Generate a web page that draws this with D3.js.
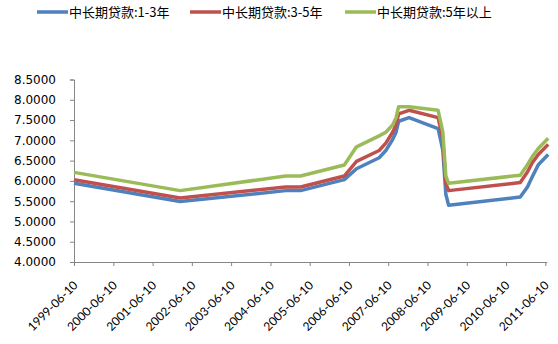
<!DOCTYPE html>
<html>
<head>
<meta charset="utf-8">
<script src="https://cdn.jsdelivr.net/npm/d3@7"></script>
<style>
  html, body { margin: 0; padding: 0; background: #fff; }
  svg { display: block; }
</style>
</head>
<body>
<svg id="chart" width="558" height="344"></svg>
<script>
// Benchmark medium/long-term loan rates (%) at each adjustment date
const dates = [
  "1999-06-10", "2002-02-21", "2004-10-29", "2005-03-17", "2006-04-28",
  "2006-08-19", "2007-03-18", "2007-05-19", "2007-07-21", "2007-08-22",
  "2007-09-15", "2007-12-21", "2008-09-16", "2008-10-09", "2008-10-30",
  "2008-11-27", "2008-12-23", "2010-10-20", "2010-12-26", "2011-02-09",
  "2011-04-06", "2011-07-07"
];
const rate1to3 = [5.94, 5.49, 5.76, 5.76, 6.03, 6.30, 6.57, 6.75, 7.02, 7.20, 7.47, 7.56,
                  7.29, 7.02, 6.75, 5.67, 5.40, 5.60, 5.85, 6.10, 6.40, 6.65];
const rate3to5 = [6.03, 5.58, 5.85, 5.85, 6.12, 6.48, 6.75, 6.93, 7.20, 7.38, 7.65, 7.74,
                  7.56, 7.29, 7.02, 5.94, 5.76, 5.96, 6.22, 6.45, 6.65, 6.90];
const rate5plus = [6.21, 5.76, 6.12, 6.12, 6.39, 6.84, 7.11, 7.20, 7.38, 7.56, 7.83, 7.83,
                   7.74, 7.47, 7.20, 6.12, 5.94, 6.14, 6.40, 6.60, 6.80, 7.05];

const seriesNames = ["中长期贷款:1-3年", "中长期贷款:3-5年", "中长期贷款:5年以上"];
const seriesColors = ["#4f81bd", "#c0504d", "#9bbb59"];
const yTicks = [4.0, 4.5, 5.0, 5.5, 6.0, 6.5, 7.0, 7.5, 8.0, 8.5];
const xTickYears = d3.range(1999, 2012);

const parse = d3.utcParse("%Y-%m-%d");
const fmtTick = d3.utcFormat("%Y-%m-%d");
const seriesValues = [rate1to3, rate3to5, rate5plus];

const svg = d3.select("#chart");
const plotLeft = 74, plotRight = 545.3, plotTop = 79.5, plotBottom = 262;

const x = d3.scaleUtc()
  .domain([parse("1999-06-10"), parse("2011-06-10")])
  .range([plotLeft, plotRight]);
const y = d3.scaleLinear().domain([4.0, 8.5]).range([plotBottom, plotTop]);

// Y axis
const yAxis = svg.append("g")
  .attr("transform", `translate(${plotLeft},0)`)
  .call(d3.axisLeft(y).tickValues(yTicks).tickFormat(d3.format(".4f")).tickSize(4).tickPadding(14));
yAxis.select(".domain").attr("stroke", "#868686");
yAxis.selectAll(".tick line").attr("stroke", "#868686");
yAxis.selectAll("text")
  .attr("font-family", "'DejaVu Sans', Verdana, sans-serif")
  .attr("font-size", 12)
  .attr("fill", "#000");

// X axis with yearly ticks on the 10th of June
const xTickDates = xTickYears.map(yr => parse(`${yr}-06-10`));
const xAxis = svg.append("g")
  .attr("transform", `translate(0,${plotBottom})`)
  .call(d3.axisBottom(x).tickValues(xTickDates).tickFormat(fmtTick).tickSize(4).tickSizeOuter(0));
xAxis.select(".domain").attr("stroke", "#868686").attr("d", `M${plotLeft},0.5H${plotRight + 2}`);
xAxis.selectAll(".tick line").attr("stroke", "#868686");
xAxis.selectAll("text")
  .attr("font-family", "Lato, 'Open Sans', sans-serif")
  .attr("font-size", 12)
  .attr("fill", "#000")
  .attr("text-anchor", "end")
  .attr("dy", 0)
  .attr("y", 0)
  .attr("transform", "translate(4,24) rotate(-45)");

// Series lines
const line = d3.line()
  .x((d, i) => x(parse(dates[i])))
  .y(d => y(d));

seriesValues.forEach((vals, k) => {
  svg.append("path")
    .datum(vals)
    .attr("fill", "none")
    .attr("stroke", seriesColors[k])
    .attr("stroke-width", 3.5)
    .attr("stroke-linejoin", "round")
    .attr("d", line);
});

// Legend
const legendX = [37, 190, 345];
seriesNames.forEach((name, k) => {
  const g = svg.append("g").attr("transform", `translate(${legendX[k]},12)`);
  g.append("line")
    .attr("x1", 0).attr("x2", 31).attr("y1", 0).attr("y2", 0)
    .attr("stroke", seriesColors[k]).attr("stroke-width", 3.5);
  g.append("text")
    .attr("x", 32).attr("y", 0).attr("dy", "0.36em")
    .attr("font-family", "'Noto Sans CJK SC', sans-serif")
    .attr("font-size", 13)
    .attr("fill", "#000")
    .text(name);
});
</script>
</body>
</html>
